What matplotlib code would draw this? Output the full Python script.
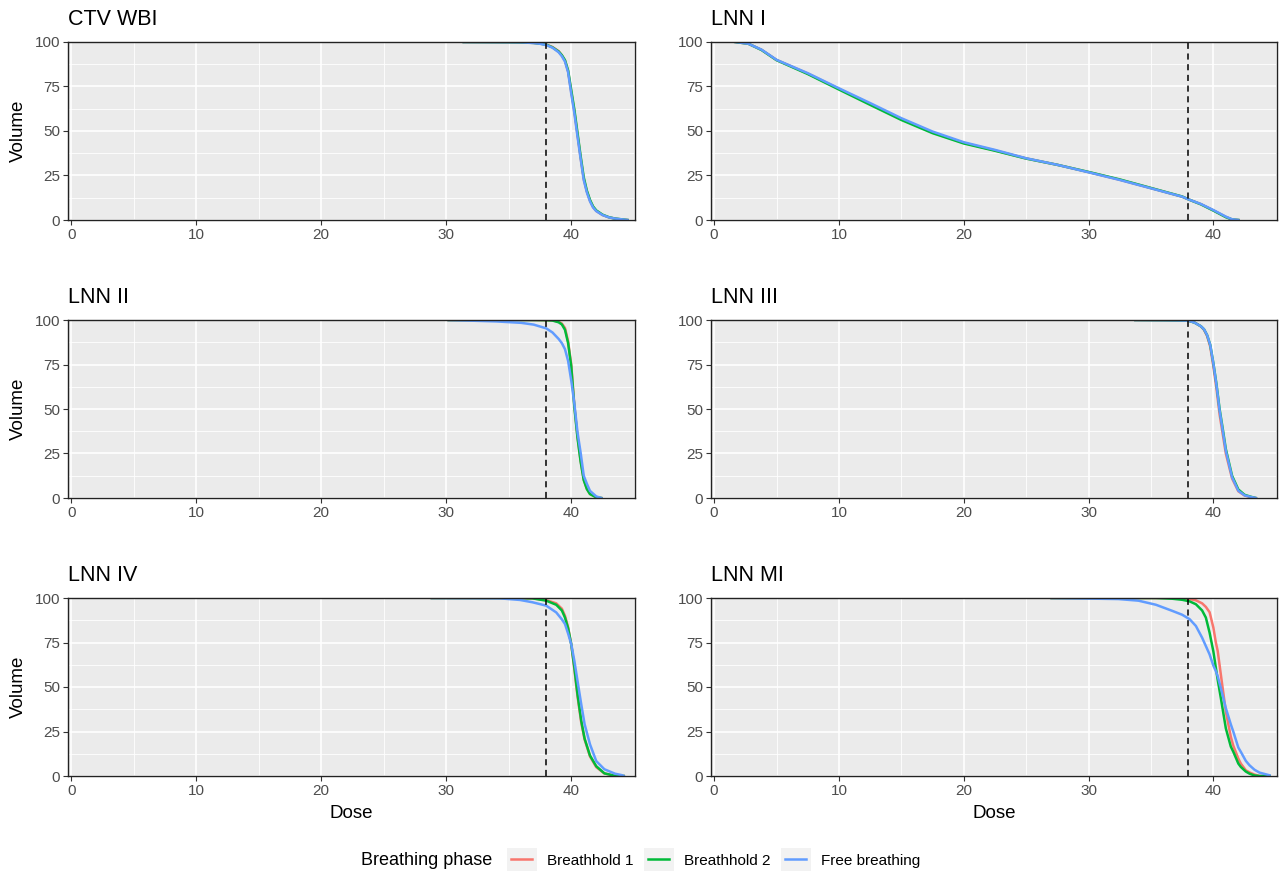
import matplotlib
matplotlib.use("Agg")
import matplotlib.pyplot as plt
from matplotlib.patches import Rectangle
from matplotlib.lines import Line2D
from matplotlib.legend_handler import HandlerBase
from matplotlib.ticker import MultipleLocator, FixedLocator

plt.rcParams['font.family'] = ['Liberation Sans', 'DejaVu Sans']

# series
phases = ["Breathhold 1", "Breathhold 2", "Free breathing"]
colors = ["#F8766D", "#00BA38", "#619CFF"]
prescription = 38

# CTV WBI
wbi_dose = [31.4, 35, 36, 37, 37.5, 38, 38.5, 39, 39.25, 39.5, 39.75, 40, 40.25, 40.5, 40.75, 41, 41.25, 41.5, 41.75, 42, 42.5, 43, 43.5, 44, 44.5]
wbi_bh1 = [100, 99.9, 99.8, 99.5, 99.1, 98.6, 97.2, 94.8, 92.5, 89.5, 83.5, 72, 61, 48, 35, 23, 16, 10.8, 7.2, 5.1, 2.8, 1.5, 0.8, 0.3, 0]
wbi_bh2 = [100, 99.9, 99.8, 99.5, 99.1, 98.5, 97, 94.6, 92.6, 89.8, 84, 73, 62, 49, 36, 24, 16.5, 11.3, 7.6, 5.4, 3, 1.6, 0.8, 0.4, 0]
wbi_fb = [100, 99.9, 99.8, 99.4, 99, 98.3, 96.8, 94.2, 92, 89, 83, 71, 60, 47, 34.5, 22.5, 15.5, 10.5, 7, 5, 2.8, 1.5, 0.8, 0.4, 0]

# LNN I
lnn1_dose = [1.7, 2.75, 3.8, 5, 7.5, 10, 12.5, 15, 17.5, 20, 22.5, 25, 27.5, 30, 32.5, 35, 37.5, 38, 39, 40, 41, 41.5, 42]
lnn1_bh1 = [100, 99, 95.6, 89.9, 82.3, 73.7, 65.2, 56.7, 49.2, 43.3, 39.1, 34.6, 31, 26.9, 22.6, 17.9, 13.1, 11.6, 8.9, 5.4, 1.7, 0.3, 0]
lnn1_bh2 = [100, 99, 95.5, 89.8, 82, 73.3, 64.7, 56.2, 48.8, 43, 38.9, 34.5, 31, 27, 22.8, 18, 13.2, 11.6, 8.8, 5.3, 1.6, 0.3, 0]
lnn1_fb = [100, 99, 95.7, 90, 82.5, 74, 65.7, 57.2, 49.7, 43.7, 39.4, 34.7, 31, 26.8, 22.5, 17.8, 13.1, 11.6, 9, 5.6, 1.9, 0.4, 0]

# LNN II
lnn2_dose = [30.2, 34, 36, 37, 38, 38.5, 39, 39.25, 39.5, 39.75, 40, 40.25, 40.5, 40.75, 41, 41.25, 41.5, 42, 42.4]
lnn2_bh1 = [100, 100, 100, 100, 99.9, 99.8, 99, 98, 95.5, 88, 75, 52, 34.5, 21, 10.5, 5.2, 2.3, 0.4, 0]
lnn2_bh2 = [100, 100, 100, 100, 99.9, 99.7, 98.7, 97.5, 94.5, 87, 74, 51, 34, 20.5, 10, 5, 2.2, 0.4, 0]
lnn2_fb = [100, 99.2, 98.4, 97.4, 95.3, 93, 89.3, 87, 83.6, 77, 66, 53, 37, 25.5, 12.5, 8, 4, 0.9, 0]

# LNN III
lnn3_dose = [33.75, 36, 37, 38, 38.5, 39, 39.25, 39.5, 39.75, 40, 40.25, 40.5, 40.75, 41, 41.5, 42, 42.5, 43, 43.4]
lnn3_bh1 = [100, 99.9, 99.8, 99.6, 98.6, 96.4, 94.5, 91, 85, 74, 61.5, 47, 36, 25, 11, 3.8, 1.4, 0.5, 0]
lnn3_bh2 = [100, 99.9, 99.8, 99.6, 98.5, 96.5, 94.8, 91.5, 86, 75.8, 64, 50, 39, 27.5, 12.5, 4.8, 1.8, 0.7, 0]
lnn3_fb = [100, 99.9, 99.8, 99.6, 98.5, 96.5, 94.8, 91.5, 86, 75.6, 63.5, 49.2, 38, 26.5, 11.7, 4.1, 1.5, 0.6, 0]

# LNN IV
lnn4_dose = [28.85, 32, 34.3, 35.9, 36.9, 38, 38.8, 39.25, 39.5, 39.75, 40, 40.25, 40.5, 40.8, 41.07, 41.5, 42, 42.65, 43.5, 44.1, 44.2]
lnn4_bh1 = [100, 100, 100, 99.9, 99.8, 98.8, 97, 94, 90, 83.5, 74, 60, 45, 30, 20.5, 11, 5, 1.4, 0.2, 0, 0]
lnn4_bh2 = [100, 100, 100, 99.9, 99.8, 98.5, 96.2, 93, 89, 83, 74.1, 61, 46, 31, 21, 11.5, 5.5, 1.5, 0.1, 0, 0]
lnn4_fb = [100, 99.9, 99.8, 98.9, 97.6, 95.7, 91.9, 88, 85.4, 80, 74.1, 64.7, 53.5, 40.3, 29.1, 17.8, 8.4, 3.8, 1.3, 0.4, 0]

# LNN MI
lnnmi_dose = [27.04, 32.4, 34, 35.4, 36.7, 37.5, 38.1, 38.6, 39.1, 39.4, 39.7, 40.0, 40.2, 40.35, 40.6, 41.0, 41.4, 41.6, 42.0, 42.2, 42.6, 42.9, 43.3, 43.7, 44.5]
lnnmi_bh1 = [100, 100, 100, 100, 100, 99.8, 99.4, 98.7, 97, 95, 92, 83.4, 75, 70.2, 57, 36.2, 22, 17, 9.8, 7, 3.2, 2, 0.8, 0, 0]
lnnmi_bh2 = [100, 100, 100, 100, 99.6, 99, 98.1, 96.5, 93, 89, 80.5, 70, 60.8, 54, 43.8, 26.8, 16.5, 13.6, 7, 5.1, 2.5, 1.3, 0.3, 0, 0]
lnnmi_fb = [100, 99.4, 98.5, 96.2, 92.8, 90.6, 88.1, 84.3, 77.7, 73, 68.3, 62, 58.9, 56, 49.4, 38.1, 29, 24.9, 16, 13.6, 8.5, 6, 3.5, 1.9, 0.4]

panels = [
    ("CTV WBI", wbi_dose, [wbi_bh1, wbi_bh2, wbi_fb]),
    ("LNN I", lnn1_dose, [lnn1_bh1, lnn1_bh2, lnn1_fb]),
    ("LNN II", lnn2_dose, [lnn2_bh1, lnn2_bh2, lnn2_fb]),
    ("LNN III", lnn3_dose, [lnn3_bh1, lnn3_bh2, lnn3_fb]),
    ("LNN IV", lnn4_dose, [lnn4_bh1, lnn4_bh2, lnn4_fb]),
    ("LNN MI", lnnmi_dose, [lnnmi_bh1, lnnmi_bh2, lnnmi_fb]),
]


class KeyHandler(HandlerBase):
    # ggplot-like key: grey box with a short line in the middle
    def create_artists(self, legend, orig_handle, xdescent, ydescent,
                       width, height, fontsize, trans):
        x0, y0 = -xdescent, -ydescent
        bg = Rectangle((x0, y0 - 0.35 * height), width, height * 1.7,
                       facecolor="#F2F2F2", edgecolor="none", transform=trans)
        ln = Line2D([x0 + 0.15 * width, x0 + 0.85 * width], [y0 + height / 2] * 2,
                    color=orig_handle.get_color(), lw=orig_handle.get_linewidth(),
                    transform=trans)
        return [bg, ln]


W, H = 1282, 872
fig = plt.figure(figsize=(W / 100, H / 100), dpi=100)

lefts = [68, 711]
widths = [567, 566]
tops = [42, 320, 598]
ph = 178

for i, (title, dose, vols) in enumerate(panels):
    r, c = divmod(i, 2)
    ax = fig.add_axes([lefts[c] / W, 1 - (tops[r] + ph) / H, widths[c] / W, ph / H])
    ax.set_facecolor("#EBEBEB")
    for v, col in zip(vols, colors):
        ax.plot(dose, v, color=col, lw=1.8, solid_joinstyle="round")
    ax.axvline(prescription, color="black", lw=1.1, ls=(0, (4, 3)))
    ax.set_xlim(-0.25, 45.1)
    ax.set_ylim(0, 100)
    ax.xaxis.set_major_locator(MultipleLocator(10))
    ax.xaxis.set_minor_locator(FixedLocator([5, 15, 25, 35, 45]))
    ax.yaxis.set_major_locator(MultipleLocator(25))
    ax.yaxis.set_minor_locator(FixedLocator([12.5, 37.5, 62.5, 87.5]))
    ax.grid(which="major", color="white", lw=1.2)
    ax.grid(which="minor", color="white", lw=0.6)
    ax.set_axisbelow(True)
    ax.tick_params(which="major", length=3.5, width=0.8, color="#333333",
                   labelsize=11, labelcolor="#4D4D4D", pad=2)
    ax.tick_params(which="minor", length=0)
    for s in ax.spines.values():
        s.set_color("#222222")
        s.set_linewidth(1.0)
    ax.set_title(title, loc="left", fontsize=15.5, pad=12)
    if c == 0:
        ax.set_ylabel("Volume", fontsize=13.5, labelpad=6)
    if r == 2:
        ax.set_xlabel("Dose", fontsize=13.5, labelpad=5)

# legend at the bottom
fig.text(361 / W, 1 - 860 / H, "Breathing phase", fontsize=13, va="center", ha="left")
handles = [Line2D([], [], color=col, lw=1.8) for col in colors]
fig.legend(handles, phases, loc="center left", bbox_to_anchor=(507 / W, 1 - 860 / H),
           ncol=3, frameon=False, fontsize=11, handlelength=1.95, handleheight=1.0,
           handletextpad=0.65, columnspacing=0.7, borderpad=0, borderaxespad=0,
           handler_map={Line2D: KeyHandler()})

fig.savefig("out.png", dpi=100)
